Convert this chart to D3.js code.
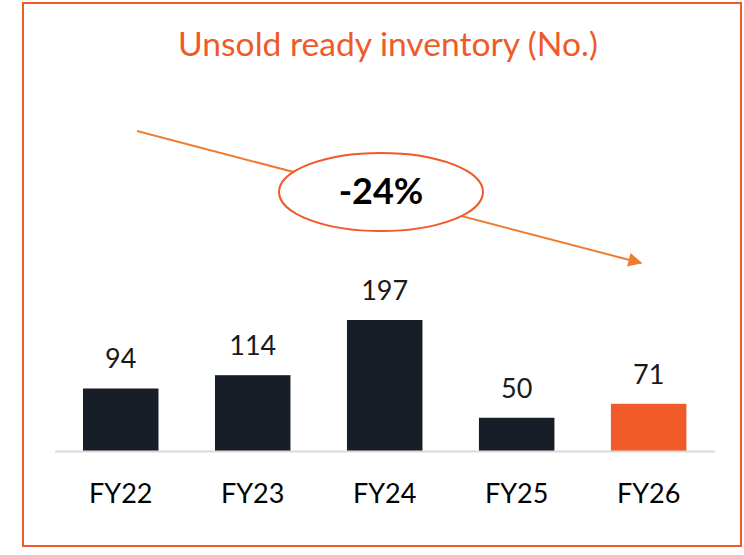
<!DOCTYPE html>
<html><head><meta charset="utf-8">
<script src="https://cdn.jsdelivr.net/npm/d3@7"></script>
<style>html,body{margin:0;padding:0;background:#fff;}svg{display:block;}</style>
</head><body>
<svg id="c" width="744" height="555"></svg>
<script>
const categories = ["FY22","FY23","FY24","FY25","FY26"];
const values = [94, 114, 197, 50, 71];
const highlight = ["FY26"];
const title = "Unsold ready inventory (No.)";
const changeLabel = "-24%";

const FONT = "Lato,'Open Sans',sans-serif";
const svg = d3.select("#c");

// frame
svg.append("rect").attr("x",23).attr("y",3).attr("width",718).attr("height",543)
  .attr("fill","none").attr("stroke","#F05A28").attr("stroke-width",2);

// title
const t = svg.append("text").attr("x",388).attr("y",56).attr("text-anchor","middle")
  .attr("font-family",FONT).attr("font-size",30).attr("fill","#F05A28").text(title);
const tw = t.node().getComputedTextLength();
t.attr("font-size", 30*420/tw);

const x = d3.scaleBand().domain(categories).range([56.6,712.8]).paddingInner(0.428).paddingOuter(0.2);
const y = d3.scaleLinear().domain([0,197]).range([451,320]);

svg.selectAll("rect.bar").data(values).join("rect").attr("class","bar")
  .attr("x",(d,i)=>x(categories[i])).attr("width",x.bandwidth())
  .attr("y",d=>y(d)).attr("height",d=>y(0)-y(d))
  .attr("fill",(d,i)=>highlight.includes(categories[i])?"#F15A29":"#171E28");

// axis
const ax = svg.append("g").attr("transform",`translate(0,${y(0)})`)
  .call(d3.axisBottom(x).tickSize(0).tickPadding(33));
ax.select(".domain").attr("stroke","#D9D9D9").attr("stroke-width",2)
  .attr("d","M55,0.5H715");
ax.selectAll("text").attr("font-family",FONT).attr("font-size",27).attr("fill","#000");

svg.selectAll("text.val").data(values).join("text").attr("class","val")
  .attr("x",(d,i)=>x(categories[i])+x.bandwidth()/2).attr("y",d=>y(d)-20)
  .attr("text-anchor","middle").attr("font-family",FONT).attr("font-size",27).attr("fill","#1a1a1a")
  .text(d=>d);

// trend arrow
const defs = svg.append("defs");
defs.append("marker").attr("id","ah").attr("viewBox","0 0 10 10").attr("refX",9).attr("refY",5)
  .attr("markerWidth",8).attr("markerHeight",7).attr("orient","auto").attr("markerUnits","strokeWidth")
  .append("path").attr("d","M0,0L10,5L0,10Z").attr("fill","#ED7D31");
svg.append("line").attr("x1",137).attr("y1",131).attr("x2",641).attr("y2",263)
  .attr("stroke","#ED7D31").attr("stroke-width",2).attr("marker-end","url(#ah)");

svg.append("ellipse").attr("cx",381).attr("cy",192).attr("rx",102).attr("ry",39)
  .attr("fill","#fff").attr("stroke","#F05A28").attr("stroke-width",2);
svg.append("text").attr("x",381).attr("y",204).attr("text-anchor","middle")
  .attr("font-family",FONT).attr("font-weight","bold").attr("font-size",36).attr("fill","#000").text(changeLabel);
</script>
</body></html>
